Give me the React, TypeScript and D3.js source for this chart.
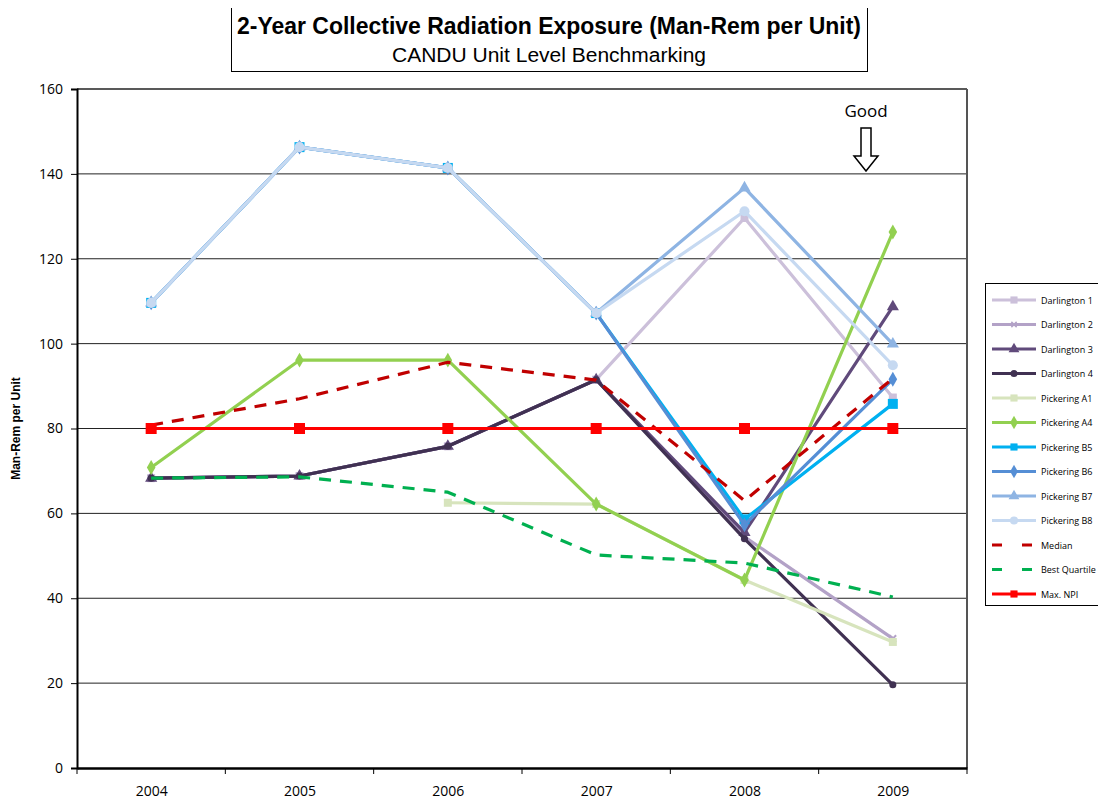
import React, { useEffect, useRef } from "react";
import * as d3 from "d3";

// chart values
const years = ["2004", "2005", "2006", "2007", "2008", "2009"];
const yTicks = [0, 20, 40, 60, 80, 100, 120, 140, 160];

const darlington1 = [68.3, 68.8, 75.8, 91.5, 129.6, 87.3];
const darlington2 = [68.3, 68.8, 75.8, 91.5, 54.5, 30.5];
const darlington3 = [68.3, 68.8, 75.8, 91.5, 55.5, 108.7];
const darlington4 = [68.3, 68.8, 75.8, 91.5, 54.0, 19.6];
const pickeringA1 = [null, null, 62.5, 62.2, 44.3, 29.7];
const pickeringA4 = [70.8, 96.1, 96.1, 62.2, 44.3, 126.3];
const pickeringB5 = [109.6, 146.3, 141.4, 107.2, 58.6, 85.8];
const pickeringB6 = [109.6, 146.3, 141.4, 107.2, 57.3, 91.6];
const pickeringB7 = [109.6, 146.3, 141.4, 107.2, 136.7, 99.9];
const pickeringB8 = [109.6, 146.3, 141.4, 107.2, 131.2, 94.9];
const median = [80.8, 87.0, 95.6, 91.4, 63.0, 91.8];
const bestQuartile = [68.3, 68.6, 65.0, 50.2, 48.3, 40.3];
const maxNpi = [80, 80, 80, 80, 80, 80];

type Series = { name: string; values: (number | null)[]; color: string; marker: string; dash?: string; mSize: number };

const series: Series[] = [
  { name: "Darlington  1", values: darlington1, color: "#ccc0da", marker: "square", mSize: 8 },
  { name: "Darlington  2", values: darlington2, color: "#b3a2c7", marker: "star", mSize: 6 },
  { name: "Darlington  3", values: darlington3, color: "#604a7b", marker: "triangle", mSize: 8 },
  { name: "Darlington  4", values: darlington4, color: "#403152", marker: "circle", mSize: 7 },
  { name: "Pickering A1", values: pickeringA1, color: "#d7e4bd", marker: "square", mSize: 8 },
  { name: "Pickering A4", values: pickeringA4, color: "#92d050", marker: "diamond", mSize: 8 },
  { name: "Pickering B5", values: pickeringB5, color: "#00b0f0", marker: "square", mSize: 10 },
  { name: "Pickering B6", values: pickeringB6, color: "#558ed5", marker: "diamond", mSize: 8 },
  { name: "Pickering B7", values: pickeringB7, color: "#8eb4e3", marker: "triangle", mSize: 8 },
  { name: "Pickering B8", values: pickeringB8, color: "#c6d9f1", marker: "circle", mSize: 10 },
  { name: "Median", values: median, color: "#c00000", marker: "none", dash: "12,9", mSize: 0 },
  { name: "Best Quartile", values: bestQuartile, color: "#00b050", marker: "none", dash: "12,9", mSize: 0 },
  { name: "Max. NPI", values: maxNpi, color: "#ff0000", marker: "square", mSize: 11 },
];

const W = 1106, H = 805;
const margin = { top: 89, right: 139, bottom: 37, left: 77 };
const FONT = "'Liberation Sans Narrow', 'Liberation Sans', sans-serif";
const LABEL_FONT = "'Open Sans', sans-serif";

const symbolFor = (m: string) => {
  if (m === "square") return d3.symbolSquare;
  if (m === "triangle") return d3.symbolTriangle;
  if (m === "circle") return d3.symbolCircle;
  if (m === "diamond") return d3.symbolDiamond;
  return d3.symbolCross;
};

const App = () => {
  const ref = useRef<SVGSVGElement>(null);

  useEffect(() => {
    const svg = d3.select(ref.current);
    svg.selectAll("*").remove();

    const width = W - margin.left - margin.right;
    const height = H - margin.top - margin.bottom;

    const x = d3.scalePoint().domain(years).range([0, width]).padding(0.5);
    const xBand = d3.scaleBand().domain(years).range([0, width]);
    const y = d3.scaleLinear().domain([0, 160]).range([height, 0]);

    // title box
    svg.append("rect").attr("x", 231.5).attr("y", 3.5).attr("width", 636).attr("height", 68)
      .attr("fill", "#fff").attr("stroke", "#000").attr("stroke-width", 1);
    svg.append("text").attr("x", 549).attr("y", 34).attr("text-anchor", "middle")
      .attr("font-family", FONT).attr("font-weight", "bold").attr("font-size", 24)
      .attr("textLength", 624).attr("lengthAdjust", "spacingAndGlyphs")
      .text("2-Year Collective Radiation  Exposure (Man-Rem  per Unit)");
    svg.append("text").attr("x", 549).attr("y", 62).attr("text-anchor", "middle")
      .attr("font-family", FONT).attr("font-size", 20)
      .attr("textLength", 314).attr("lengthAdjust", "spacingAndGlyphs")
      .text("CANDU Unit Level Benchmarking");

    const g = svg.append("g").attr("transform", `translate(${margin.left},${margin.top})`);

    // grid lines
    g.append("g").selectAll("line").data(yTicks.filter(t => t > 0 && t < 160)).enter().append("line")
      .attr("x1", 0).attr("x2", width).attr("y1", d => y(d)).attr("y2", d => y(d))
      .attr("stroke", "#222").attr("stroke-width", 1);

    // plot border top/right
    g.append("line").attr("x1", 0).attr("x2", width).attr("y1", 0).attr("y2", 0)
      .attr("stroke", "#222").attr("stroke-width", 1.5);
    g.append("line").attr("x1", width).attr("x2", width).attr("y1", 0).attr("y2", height)
      .attr("stroke", "#555").attr("stroke-width", 2);

    // y axis
    const yAxis = g.append("g").call(d3.axisLeft(y).tickValues(yTicks).tickSize(6).tickPadding(8));
    yAxis.select(".domain").attr("stroke", "#000").attr("stroke-width", 2);
    yAxis.selectAll("text").attr("font-family", LABEL_FONT).attr("font-size", 14).attr("fill", "#000");

    // x axis
    const xAxis = g.append("g").attr("transform", `translate(0,${height})`)
      .call(d3.axisBottom(x).tickSize(0).tickPadding(18));
    xAxis.select(".domain").attr("stroke", "#000").attr("stroke-width", 2.5);
    xAxis.selectAll("text").attr("font-family", LABEL_FONT).attr("font-size", 14).attr("fill", "#000");
    g.append("g").selectAll("line").data(years.concat(["end"])).enter().append("line")
      .attr("x1", (d, i) => (i < years.length ? (xBand(d) as number) : width))
      .attr("x2", (d, i) => (i < years.length ? (xBand(d) as number) : width))
      .attr("y1", height).attr("y2", height + 6).attr("stroke", "#000").attr("stroke-width", 1);

    // y axis title
    svg.append("text").attr("transform", `translate(20,${margin.top + height / 2}) rotate(-90)`)
      .attr("text-anchor", "middle").attr("font-family", "'Liberation Sans', sans-serif")
      .attr("font-weight", "bold").attr("font-size", 12).text("Man-Rem per Unit");

    // lines
    const line = d3.line<number | null>()
      .defined(d => d !== null)
      .x((d, i) => x(years[i]) as number)
      .y(d => y(d as number));

    series.forEach(s => {
      g.append("path").attr("d", line(s.values)).attr("fill", "none")
        .attr("stroke", s.color).attr("stroke-width", 3.2)
        .attr("stroke-dasharray", s.dash || null)
        .attr("stroke-linejoin", "round");
      if (s.marker !== "none") {
        const sym = d3.symbol().type(symbolFor(s.marker)).size(s.mSize * s.mSize * (s.marker === "circle" ? 0.8 : 1));
        g.append("g").selectAll("path").data(s.values.map((v, i) => ({ v, i })).filter(p => p.v !== null))
          .enter().append("path")
          .attr("d", s.marker === "star" ? d3.symbol().type(d3.symbolX).size(30)() : sym())
          .attr("transform", p => `translate(${x(years[p.i])},${y(p.v as number)})`)
          .attr("fill", s.color).attr("stroke", s.color).attr("stroke-width", s.marker === "star" ? 2 : 0);
      }
    });

    // "Good" annotation
    svg.append("text").attr("x", 866).attr("y", 117).attr("text-anchor", "middle")
      .attr("font-family", LABEL_FONT).attr("font-size", 17).text("Good");
    svg.append("path")
      .attr("d", "M861,128 L871,128 L871,156 L878,156 L866,171 L854,156 L861,156 Z")
      .attr("fill", "#fff").attr("stroke", "#000").attr("stroke-width", 1.5);

    // legend
    const lg = svg.append("g");
    lg.append("rect").attr("x", 985.5).attr("y", 283.5).attr("width", 117).attr("height", 322)
      .attr("fill", "#fff").attr("stroke", "#000").attr("stroke-width", 1);
    series.forEach((s, i) => {
      const ly = 300 + i * 24.5;
      lg.append("line").attr("x1", 992).attr("x2", 1036).attr("y1", ly).attr("y2", ly)
        .attr("stroke", s.color).attr("stroke-width", 3)
        .attr("stroke-dasharray", s.dash ? "10,20" : null);
      if (s.marker !== "none") {
        const sym = d3.symbol().type(symbolFor(s.marker)).size(Math.min(s.mSize, 8) ** 2 * 0.8);
        lg.append("path").attr("d", s.marker === "star" ? d3.symbol().type(d3.symbolX).size(20)() : sym())
          .attr("transform", `translate(1014,${ly})`).attr("fill", s.color).attr("stroke", s.color)
          .attr("stroke-width", s.marker === "star" ? 1.5 : 0);
      }
      lg.append("text").attr("x", 1041).attr("y", ly + 3.5).attr("font-family", LABEL_FONT)
        .attr("font-size", 9).text(s.name);
    });
  }, []);

  return <svg ref={ref} width={W} height={H} style={{ display: "block", margin: "-8px" }} />;
};

export default App;
